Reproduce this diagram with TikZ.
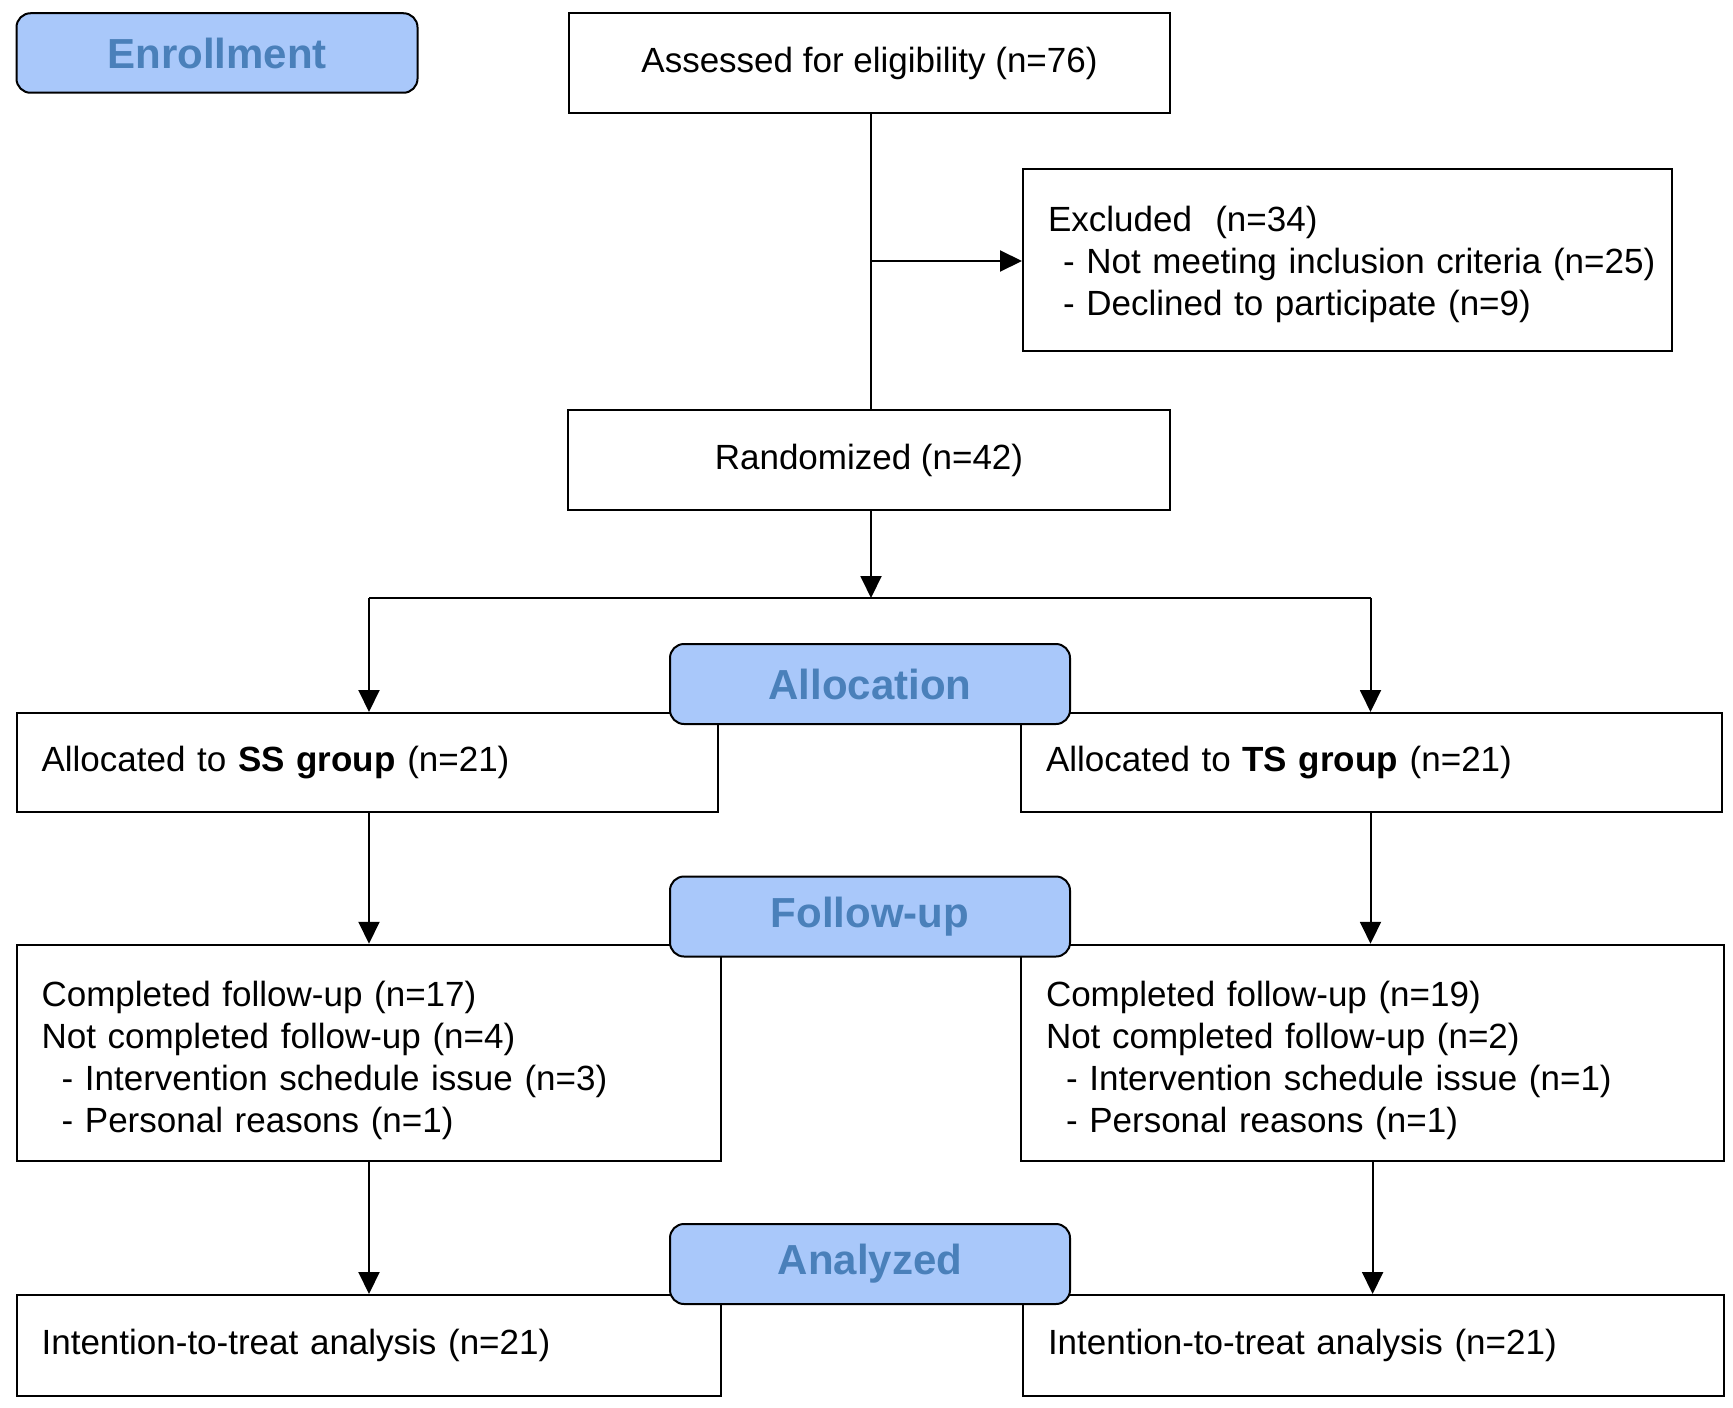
\documentclass[tikz,border=0pt]{standalone}
\usepackage{fontspec}
\setmainfont{Liberation Sans}
\usetikzlibrary{arrows.meta}
\definecolor{labfill}{RGB}{169,200,250}
\definecolor{labtext}{RGB}{74,128,186}
\tikzset{
  box/.style={draw=black, line width=1pt, fill=white, inner xsep=12.5pt, inner ysep=0pt,
    font=\fontsize{17.5}{21}\selectfont, align=left},
  labelbox/.style={draw=black, line width=1pt, fill=labfill, rounded corners=7pt,
    minimum width=200pt, minimum height=40pt, inner sep=0pt,
    font=\fontsize{21}{25}\selectfont\bfseries, text=labtext},
  arr/.style={line width=1pt, -{Triangle[length=11pt,width=10.5pt]}},
  ln/.style={line width=1pt}
}
\begin{document}
\begin{tikzpicture}[x=0.5pt,y=-0.5pt]
\useasboundingbox (0,0) rectangle (1733,1407);
% boxes
\node[box, minimum width=300.5pt, minimum height=49.7pt, align=center] (assess) at (869.5,63) {Assessed for eligibility (n=76)};
\node[box, minimum width=324.5pt, minimum height=91pt, text width=299.5pt] (excl) at (1347.5,260)
  {\mbox{\rule{0pt}{17.2pt}Excluded\ \ (n=34)}\\\mbox{\hspace*{7.5pt}- Not meeting inclusion criteria (n=25)}\\\mbox{\hspace*{7.5pt}- Declined to participate (n=9)}};
\node[box, minimum width=301pt, minimum height=49.75pt, align=center] (rand) at (869,460) {Randomized (n=42)};
\node[box, minimum width=350.7pt, minimum height=49.5pt, text width=325.7pt] (ss) at (367.3,762.5) {Allocated to \textbf{SS group} (n=21)};
\node[box, minimum width=350.5pt, minimum height=49.5pt, text width=325.5pt] (ts) at (1371.5,762.5) {Allocated to \textbf{TS group} (n=21)};
\node[box, minimum width=352pt, minimum height=108.25pt, text width=327pt] (ssf) at (368.6,1053)
  {\rule{0pt}{20.5pt}Completed follow-up (n=17)\\Not completed follow-up (n=4)\\\hspace*{10pt}- Intervention schedule issue (n=3)\\\hspace*{10pt}- Personal reasons (n=1)};
\node[box, minimum width=351.5pt, minimum height=108.25pt, text width=326.5pt] (tsf) at (1372.5,1053)
  {\rule{0pt}{20.5pt}Completed follow-up (n=19)\\Not completed follow-up (n=2)\\\hspace*{10pt}- Intervention schedule issue (n=1)\\\hspace*{10pt}- Personal reasons (n=1)};
\node[box, minimum width=352pt, minimum height=50.5pt, text width=327pt] (ssa) at (368.6,1345.5) {Intention-to-treat analysis (n=21)};
\node[box, minimum width=350.5pt, minimum height=50.5pt, text width=325.5pt] (tsa) at (1373.5,1345.5) {Intention-to-treat analysis (n=21)};
% stage labels
\node[labelbox, minimum width=200.5pt, minimum height=39.75pt] (enroll) at (217,53) {Enrollment};
\node[labelbox] (alloc) at (870,684) {Allocation};
\node[labelbox] (fu) at (870,916.5) {Follow-up};
\node[labelbox] (an) at (870,1264) {Analyzed};
% connectors
\coordinate (ex) at (871,261);
\coordinate (split) at (871,598);
\coordinate (sl) at (369,598);
\coordinate (sr) at (1370.5,598);
\draw[ln] (assess.south -| ex) -- (rand.north -| ex);
\draw[arr] (ex) -- (excl.west |- ex);
\draw[arr] (rand.south -| split) -- (split);
\draw[ln] (sl) -- (sr);
\draw[arr] (sl) -- (sl |- ss.north);
\draw[arr] (sr) -- (sr |- ts.north);
\draw[arr] (ss.south -| sl) -- (sl |- ssf.north);
\draw[arr] (ts.south -| sr) -- (sr |- tsf.north);
\coordinate (br) at (1372.6,1161.5);
\draw[arr] (ssf.south -| sl) -- (sl |- ssa.north);
\draw[arr] (tsf.south -| br) -- (br |- tsa.north);
\end{tikzpicture}
\end{document}
